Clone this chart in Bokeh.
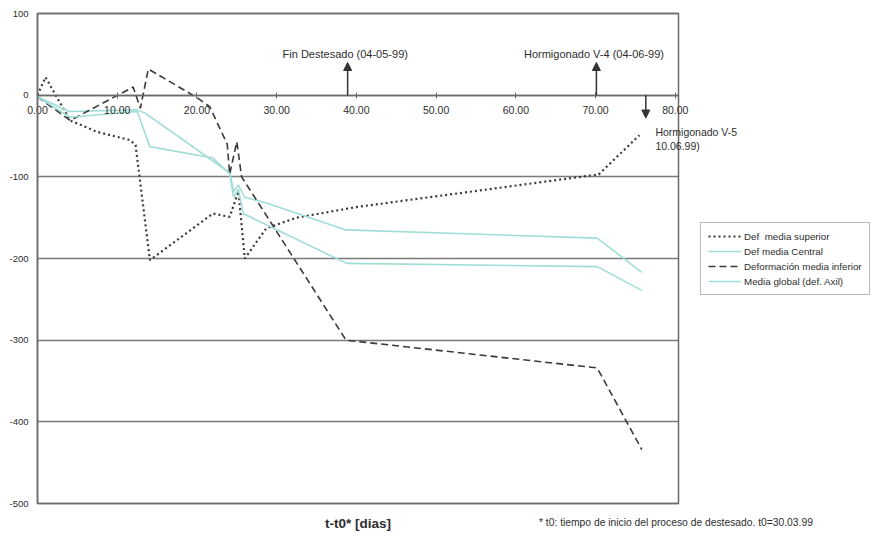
from bokeh.plotting import figure
from bokeh.models import (FixedTicker, Label, Arrow, NormalHead, Legend, LegendItem,
                          Range1d, BoxAnnotation)
from bokeh.embed import file_html
from bokeh.resources import INLINE

# ---- data ----
sup_x = [0.0, 1.0, 4.1, 7.5, 11.6, 12.3, 14.1, 22.0, 24.1, 25.2, 26.0, 28.7, 32.5, 40.0, 70.4, 75.5]
sup_y = [0, 22, -31, -45, -55, -61, -202, -145, -149, -118, -200, -163, -150, -137, -97, -49]

cen_x = [0.0, 4.0, 12.5, 13.5, 24.1, 24.6, 25.2, 26.0, 28.7, 38.7, 70.2, 75.8]
cen_y = [-2, -20, -18, -22, -95, -118, -110, -125, -132, -165, -175, -217]

inf_x = [0.0, 4.1, 12.0, 12.9, 13.9, 20.0, 21.6, 23.8, 24.1, 25.0, 25.6, 27.9, 38.7, 70.2, 75.8]
inf_y = [-2, -31, 10, -16, 32, -3, -14, -60, -97, -57, -100, -135, -300, -334, -434]

glo_x = [0.0, 4.1, 12.5, 14.1, 22.0, 24.1, 24.6, 25.2, 25.8, 38.8, 70.2, 75.8]
glo_y = [-2, -27, -20, -63, -77, -96, -125, -115, -145, -206, -210, -239]

series_names = ["Def  media superior", "Def media Central",
                "Deformación media inferior", "Media global (def. Axil)"]

x_ticks = [0, 10, 20, 30, 40, 50, 60, 70, 80]
x_tick_labels = ["0.00", "10.00", "20.00", "30.00", "40.00", "50.00", "60.00", "70.00", "80.00"]
y_ticks = [-500, -400, -300, -200, -100, 0, 100]
y_tick_labels = ["-500", "-400", "-300", "-200", "-100", "0", "100"]

event_labels = ["Fin Destesado (04-05-99)", "Hormigonado V-4 (04-06-99)"]
event_x = [38.9, 70.1]
v5_x = 76.3
v5_lines = ["Hormigonado V-5", "10.06.99)"]
x_title = "t-t0* [dias]"
footnote = "* t0: tiempo de inicio del proceso de destesado. t0=30.03.99"

# ---- layout (pixels of the plotting area inside the 878x536 canvas) ----
W, H = 878, 536
PL, PR, PT, PB = 37, 678, 13, 503
X0, X1, Y0, Y1 = 0.0, 80.4, -500.0, 100.0
ux = (X1 - X0) / (PR - PL)
uy = (Y1 - Y0) / (PB - PT)
x_range = Range1d(X0 - PL * ux, X1 + (W - PR) * ux)
y_range = Range1d(Y0 - (H - PB) * uy, Y1 + PT * uy)

FONT = "Liberation Sans"
TXT = "#2e2e2e"
DARK = "#3a3a3a"
CYAN = "#a0ddd7"
FRAME = "#6a6a6a"
GRID = "#7a7a7a"

p = figure(width=W, height=H, output_backend="svg", toolbar_location=None,
           x_range=x_range, y_range=y_range, min_border=0,
           background_fill_color="white", border_fill_color="white")
p.outline_line_color = None

# grid (horizontal lines limited to the plot area)
p.xgrid.visible = False
try:
    p.ygrid.cross_bounds = (X0, X1)
    p.ygrid.ticker = FixedTicker(ticks=y_ticks)
    p.ygrid.grid_line_color = GRID
    p.ygrid.grid_line_width = 1.5
except AttributeError:
    p.ygrid.visible = False
    p.segment(x0=X0, y0=y_ticks, x1=X1, y1=y_ticks, line_color=GRID, line_width=1.5,
              level="underlay")

# plot area border
p.add_layout(BoxAnnotation(left=X0, right=X1, bottom=Y0, top=Y1, fill_alpha=0,
                           line_color=FRAME, line_alpha=1, line_width=1.5, level="underlay"))

# y axis (at x=0)
p.yaxis.fixed_location = X0
p.yaxis.bounds = (Y0, Y1)
p.yaxis.ticker = FixedTicker(ticks=y_ticks)
p.yaxis.major_label_overrides = {t: l for t, l in zip(y_ticks, y_tick_labels)}
p.yaxis.major_tick_in = 0
p.yaxis.major_tick_out = 0
p.yaxis.minor_tick_line_color = None
p.yaxis.axis_line_color = FRAME
p.yaxis.axis_line_width = 1.5
p.yaxis.major_label_text_font = FONT
p.yaxis.major_label_text_font_size = "9.5px"
p.yaxis.major_label_text_color = TXT
p.yaxis.major_label_standoff = 9

# x axis crossing at y=0
p.xaxis.fixed_location = 0
p.xaxis.bounds = (X0, X1)
p.xaxis.ticker = FixedTicker(ticks=x_ticks)
p.xaxis.major_label_overrides = {t: l for t, l in zip(x_ticks, x_tick_labels)}
p.xaxis.major_tick_in = 3
p.xaxis.major_tick_out = 3
p.xaxis.minor_tick_line_color = None
p.xaxis.axis_line_color = FRAME
p.xaxis.axis_line_width = 1.5
p.xaxis.major_tick_line_color = FRAME
p.xaxis.major_label_text_font = FONT
p.xaxis.major_label_text_font_size = "10.5px"
p.xaxis.major_label_text_color = TXT
p.xaxis.major_label_standoff = 8

# series
r_sup = p.line(sup_x, sup_y, line_color=DARK, line_width=2.2, line_dash="2 3")
r_cen = p.line(cen_x, cen_y, line_color=CYAN, line_width=1.6)
r_inf = p.line(inf_x, inf_y, line_color=DARK, line_width=1.6, line_dash="7 4")
r_glo = p.line(glo_x, glo_y, line_color=CYAN, line_width=1.6)

legend = Legend(items=[LegendItem(label=n, renderers=[r]) for n, r in
                       zip(series_names, [r_sup, r_cen, r_inf, r_glo])],
                location=(700, 241))
legend.label_text_font = FONT
legend.label_text_font_size = "9.8px"
legend.label_text_color = TXT
legend.glyph_width = 33
legend.glyph_height = 12
legend.label_height = 12
legend.label_standoff = 3
legend.spacing = 3
legend.padding = 7
legend.margin = 0
legend.border_line_color = "#777777"
legend.border_line_width = 1
legend.background_fill_alpha = 1
p.add_layout(legend, "center")

# event arrows
for ex, lab in zip(event_x, event_labels):
    p.add_layout(Arrow(x_start=ex, y_start=0, x_end=ex, y_end=40,
                       line_color="#333333", line_width=1.5,
                       end=NormalHead(size=8, fill_color="#333333", line_color="#333333")))
    p.add_layout(Label(x=ex - 0.3, y=51, text=lab, text_align="center", text_baseline="middle",
                       text_font=FONT, text_font_size="11px", text_color=TXT))

p.add_layout(Arrow(x_start=v5_x, y_start=0, x_end=v5_x, y_end=-28,
                   line_color="#333333", line_width=1.5,
                   end=NormalHead(size=8, fill_color="#333333", line_color="#333333")))
for yy, t in zip([-45, -62], v5_lines):
    p.add_layout(Label(x=77.5, y=yy, text=t, text_align="left", text_baseline="middle",
                       text_font=FONT, text_font_size="10.5px", text_color=TXT))

# axis title and footnote
p.add_layout(Label(x=(X0 + X1) / 2, y=-524, text=x_title, text_align="center", text_baseline="middle",
                   text_font=FONT, text_font_size="13.5px", text_font_style="bold", text_color=TXT))
p.add_layout(Label(x=62.9, y=-523, text=footnote, text_align="left", text_baseline="middle",
                   text_font=FONT, text_font_size="10.3px", text_color=TXT))

open("out.html", "w").write(file_html(p, INLINE))
